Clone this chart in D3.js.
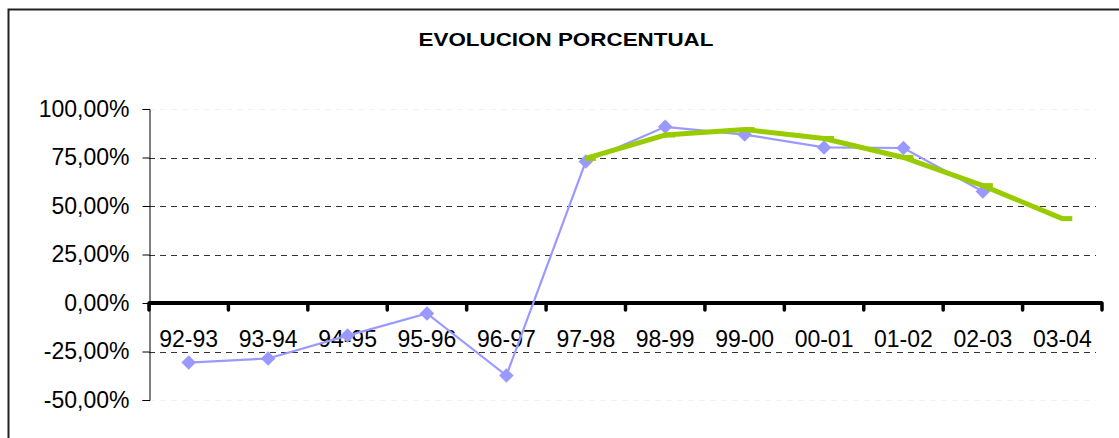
<!DOCTYPE html>
<html lang="es">
<head>
<meta charset="UTF-8">
<title>Evolucion porcentual</title>
<script src="https://d3js.org/d3.v7.min.js"></script>
<style>
  body { margin: 0; background: #fff; }
  svg { display: block; font-family: Arial, "Liberation Sans", sans-serif; }
</style>
</head>
<body>
<div id="chart"></div>
<script>
// data
const categories = ["92-93", "93-94", "94-95", "95-96", "96-97", "97-98",
                    "98-99", "99-00", "00-01", "01-02", "02-03", "03-04"];
const realValues = [-30.7, -28.6, -16.8, -5.4, -37.4, 73.0,
                    90.8, 86.8, 80.2, 79.9, 57.5, null];
const trendValues = [null, null, null, null, null, 74.5,
                     86.6, 89.4, 84.8, 75.0, 60.5, 43.5];
const yTicks = [-50, -25, 0, 25, 50, 75, 100];

const width = 1119, height = 438;
const plotLeft = 149, plotRight = 1102, plotTop = 109, plotBottom = 400;

const svg = d3.select("#chart").append("svg")
  .attr("width", width).attr("height", height);

// frame (only top and left visible)
svg.append("path")
  .attr("d", `M8.5,${height} V9.5 H${width}`)
  .attr("fill", "none").attr("stroke", "#222").attr("stroke-width", 2);

svg.append("text")
  .attr("x", 566).attr("y", 46)
  .attr("text-anchor", "middle")
  .attr("font-size", 19).attr("font-weight", "bold")
  .attr("textLength", 295).attr("lengthAdjust", "spacingAndGlyphs")
  .text("EVOLUCION PORCENTUAL");

const x = d3.scaleBand().domain(categories).range([plotLeft, plotRight]);
const y = d3.scaleLinear().domain([-50, 100]).range([plotBottom, plotTop]);

// gridlines
svg.append("g").selectAll("line")
  .data(yTicks.filter(d => d !== 0))
  .join("line")
  .attr("x1", plotLeft).attr("x2", 1096)
  .attr("y1", d => Math.round(y(d)) + 0.5).attr("y2", d => Math.round(y(d)) + 0.5)
  .attr("stroke", d => (d === 100 || d === -50) ? "#f2f2f2" : "#333")
  .attr("stroke-dasharray", "6,5");

// y axis
const yAxis = svg.append("g")
  .attr("transform", `translate(${plotLeft + 0.5},0)`)
  .call(d3.axisLeft(y).tickValues(yTicks).tickSize(7).tickPadding(13)
    .tickFormat(d => d3.format(".2f")(d).replace(".", ",").replace("\u2212", "-") + "%"));
yAxis.select(".domain").attr("stroke", "#000");
yAxis.selectAll(".tick line").attr("stroke", "#000");
yAxis.selectAll("text").attr("font-size", 23).attr("fill", "#000")
  .attr("font-family", "Arial, 'Liberation Sans', sans-serif");

// x axis at zero
const y0 = y(0);
svg.append("line")
  .attr("x1", plotLeft).attr("x2", plotRight)
  .attr("y1", y0).attr("y2", y0)
  .attr("stroke", "#000").attr("stroke-width", 4);
const bounds = categories.map(c => x(c)).concat([x(categories[categories.length - 1]) + x.bandwidth()]);
svg.append("g").selectAll("line")
  .data(bounds)
  .join("line")
  .attr("x1", d => d).attr("x2", d => d)
  .attr("y1", y0).attr("y2", y0 + 7)
  .attr("stroke", "#000").attr("stroke-width", 3.5)
  .attr("stroke-linecap", "round");
svg.append("g").selectAll("text")
  .data(categories)
  .join("text")
  .attr("x", d => x(d) + x.bandwidth() / 2)
  .attr("y", 347)
  .attr("text-anchor", "middle")
  .attr("font-size", 23)
  .text(d => d);

const cx = i => x(categories[i]) + x.bandwidth() / 2;

// real series
const line = d3.line()
  .defined(d => d !== null)
  .x((d, i) => cx(i))
  .y(d => y(d));

svg.append("path")
  .datum(realValues)
  .attr("d", line)
  .attr("fill", "none")
  .attr("stroke", "#9999FF").attr("stroke-width", 2.2);

svg.append("g").selectAll("path")
  .data(realValues.map((v, i) => [v, i]).filter(d => d[0] !== null))
  .join("path")
  .attr("d", d3.symbol(d3.symbolSquare, 105))
  .attr("transform", d => `translate(${cx(d[1])},${y(d[0])}) rotate(45)`)
  .attr("fill", "#9999FF");

// trend series
svg.append("path")
  .datum(trendValues)
  .attr("d", line)
  .attr("fill", "none")
  .attr("stroke", "#99CC00").attr("stroke-width", 5);

svg.append("g").selectAll("rect")
  .data(trendValues.map((v, i) => [v, i]).filter(d => d[0] !== null))
  .join("rect")
  .attr("x", d => cx(d[1]) - 1)
  .attr("y", d => y(d[0]) - 2.5)
  .attr("width", 11).attr("height", 5)
  .attr("fill", "#99CC00");
</script>
</body>
</html>
